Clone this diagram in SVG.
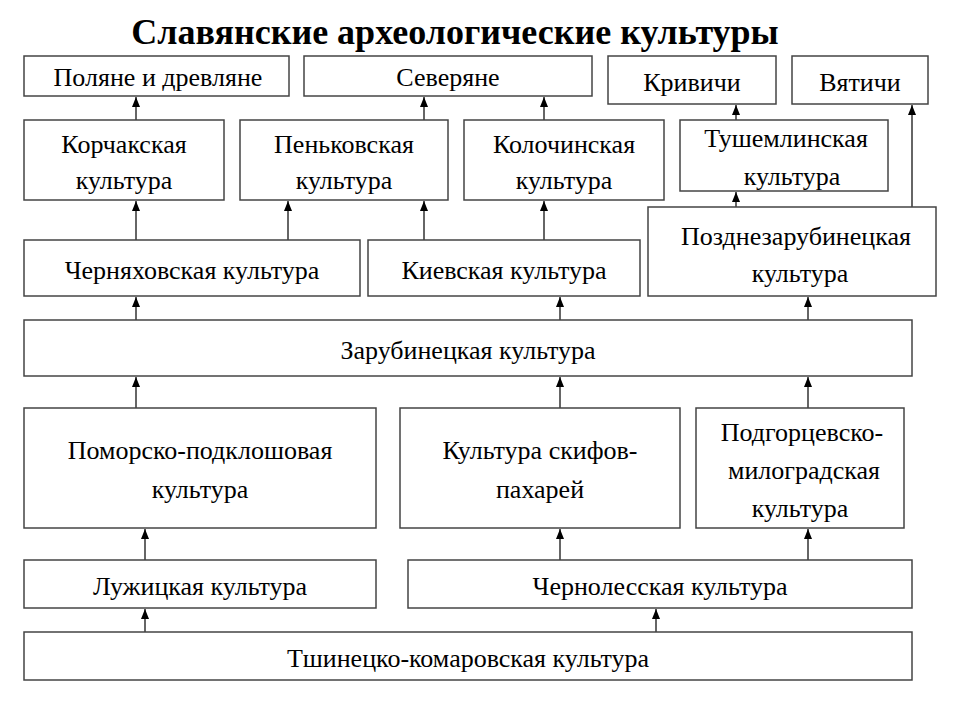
<svg xmlns="http://www.w3.org/2000/svg" width="960" height="720" viewBox="0 0 960 720" font-family="Liberation Serif, DejaVu Serif, serif">
<defs>
<marker id="ah" markerWidth="10" markerHeight="8" refX="10" refY="4" orient="auto" markerUnits="userSpaceOnUse" viewBox="0 0 10 8"><path d="M0,0 L10,4 L0,8 Z" fill="#000"/></marker>
<style>
rect{fill:#fff;stroke:#444;stroke-width:1.5}
text{font-family:'Liberation Serif','DejaVu Serif','Noto Serif',serif;font-size:26px;fill:#000;text-anchor:middle}
.t{font-size:36px;font-weight:bold}
.c line{stroke:#333;stroke-width:1.5;marker-end:url(#ah)}
</style>
</defs>
<rect x="0" y="0" width="960" height="720" style="stroke:none"/>
<text class="t" x="455" y="44">Славянские археологические культуры</text>
<g class="c">
<line x1="136" y1="120" x2="136" y2="97"/>
<line x1="424" y1="120" x2="424" y2="97"/>
<line x1="544" y1="120" x2="544" y2="97"/>
<line x1="736" y1="120" x2="736" y2="105"/>
<line x1="912" y1="207" x2="912" y2="105"/>
<line x1="736" y1="207" x2="736" y2="192"/>
<line x1="136" y1="240" x2="136" y2="201"/>
<line x1="288" y1="240" x2="288" y2="201"/>
<line x1="424" y1="240" x2="424" y2="201"/>
<line x1="544" y1="240" x2="544" y2="201"/>
<line x1="136" y1="320" x2="136" y2="297"/>
<line x1="560" y1="320" x2="560" y2="297"/>
<line x1="808" y1="320" x2="808" y2="297"/>
<line x1="136" y1="408" x2="136" y2="377"/>
<line x1="560" y1="408" x2="560" y2="377"/>
<line x1="808" y1="408" x2="808" y2="377"/>
<line x1="145" y1="560" x2="145" y2="529"/>
<line x1="560" y1="560" x2="560" y2="529"/>
<line x1="808" y1="560" x2="808" y2="529"/>
<line x1="145" y1="632" x2="145" y2="609"/>
<line x1="656" y1="632" x2="656" y2="609"/>
</g>
<g id="polyane"><rect x="24" y="56" width="265" height="40"/><text x="158" y="86">Поляне и древляне</text></g>
<g id="severyane"><rect x="304" y="56" width="288" height="40"/><text x="448" y="86">Северяне</text></g>
<g id="krivichi"><rect x="608" y="56" width="168" height="48"/><text x="692" y="91">Кривичи</text></g>
<g id="vyatichi"><rect x="792" y="56" width="136" height="48"/><text x="860" y="91">Вятичи</text></g>
<g id="korchak"><rect x="24" y="120" width="200" height="80"/><text x="124" y="153">Корчакская</text><text x="124" y="189">культура</text></g>
<g id="penkov"><rect x="240" y="120" width="208" height="80"/><text x="344" y="153">Пеньковская</text><text x="344" y="189">культура</text></g>
<g id="kolochin"><rect x="464" y="120" width="200" height="80"/><text x="564" y="153">Колочинская</text><text x="564" y="189">культура</text></g>
<g id="tushemlin"><rect x="680" y="120" width="208" height="71"/><text x="786" y="147">Тушемлинская</text><text x="792" y="185">культура</text></g>
<g id="chernyakhov"><rect x="24" y="240" width="336" height="56"/><text x="192" y="279">Черняховская культура</text></g>
<g id="kiev"><rect x="368" y="240" width="272" height="56"/><text x="504" y="279">Киевская культура</text></g>
<g id="pozdnezarub"><rect x="648" y="207" width="288" height="89"/><text x="796" y="245">Позднезарубинецкая</text><text x="800" y="282">культура</text></g>
<g id="zarub"><rect x="24" y="320" width="888" height="56"/><text x="468" y="359">Зарубинецкая культура</text></g>
<g id="pomor"><rect x="24" y="408" width="352" height="120"/><text x="200" y="459">Поморско-подклошовая</text><text x="200" y="498">культура</text></g>
<g id="skif"><rect x="400" y="408" width="280" height="120"/><text x="540" y="459">Культура скифов-</text><text x="540" y="498">пахарей</text></g>
<g id="podgor"><rect x="696" y="408" width="208" height="120"/><text x="802" y="441">Подгорцевско-</text><text x="804" y="479">милоградская</text><text x="800" y="517">культура</text></g>
<g id="luzh"><rect x="24" y="560" width="352" height="48"/><text x="200" y="595">Лужицкая культура</text></g>
<g id="chernoles"><rect x="408" y="560" width="504" height="48"/><text x="660" y="595">Чернолесская культура</text></g>
<g id="tshin"><rect x="24" y="632" width="888" height="48"/><text x="468" y="667">Тшинецко-комаровская культура</text></g>
</svg>
